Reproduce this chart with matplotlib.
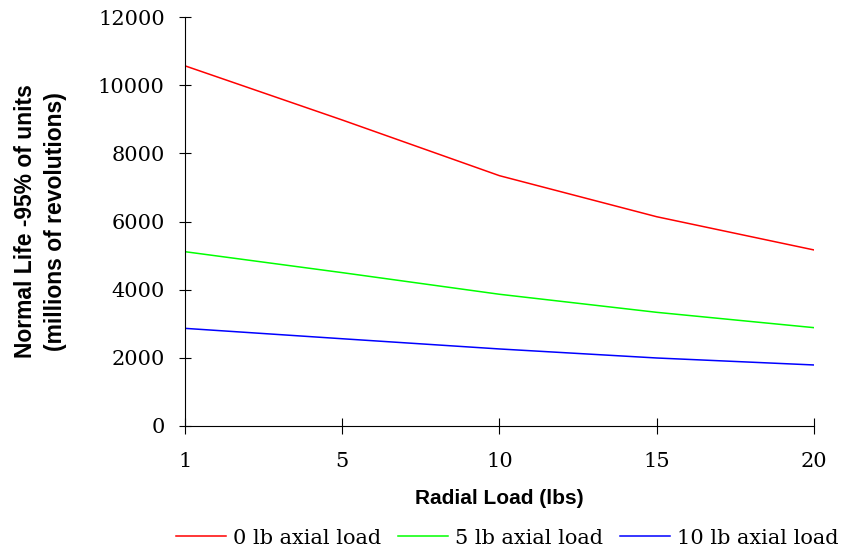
import matplotlib
matplotlib.use('Agg')
import matplotlib.pyplot as plt

radial_load = ['1', '5', '10', '15', '20']
axial_0 = [10570, 8980, 7345, 6140, 5165]
axial_5 = [5115, 4500, 3865, 3335, 2885]
axial_10 = [2865, 2560, 2260, 1995, 1790]
series_names = ['0 lb axial load', '5 lb axial load', '10 lb axial load']

serif = ['DejaVu Serif', 'Liberation Serif']
sans = ['Liberation Sans', 'DejaVu Sans']

fig = plt.figure(figsize=(8.44, 5.5), dpi=100)
ax = fig.add_axes([0.219, 0.2255, 0.7455, 0.7435])

xpos = range(len(radial_load))
ax.plot(xpos, axial_0, color='#ff0000', lw=1.1, label=series_names[0])
ax.plot(xpos, axial_5, color='#00ff00', lw=1.1, label=series_names[1])
ax.plot(xpos, axial_10, color='#0000ff', lw=1.1, label=series_names[2])

ax.set_xlim(0, len(radial_load) - 1)
ax.set_ylim(0, 12000)
ax.set_xticks(list(xpos))
ax.set_xticklabels(radial_load)
ax.set_yticks(range(0, 12001, 2000))

for s in ['top', 'right']:
    ax.spines[s].set_visible(False)
for s in ['left', 'bottom']:
    ax.spines[s].set_linewidth(0.8)
    ax.spines[s].set_clip_on(False)

ax.tick_params(axis='y', direction='inout', length=9, width=0.8, pad=10)
ax.tick_params(axis='x', direction='inout', length=11, width=0.8, pad=13)
for lab in ax.get_xticklabels() + ax.get_yticklabels():
    lab.set_family(serif)
    lab.set_fontsize(15)

ax.set_xlabel('Radial Load (lbs)', family=sans, fontweight='bold', fontsize=15, labelpad=13)
ax.set_ylabel('Normal Life -95% of units\n(millions of revolutions)', family=sans,
              fontweight='bold', fontsize=16.5, labelpad=22, linespacing=1.4)

fig.legend(loc='center', bbox_to_anchor=(0.601, 1 - 538 / 550), ncol=3, frameon=False,
           prop={'family': serif, 'size': 15}, handlelength=2.4, handletextpad=0.35,
           columnspacing=0.8, borderaxespad=0)

fig.savefig('out.png', dpi=100)
